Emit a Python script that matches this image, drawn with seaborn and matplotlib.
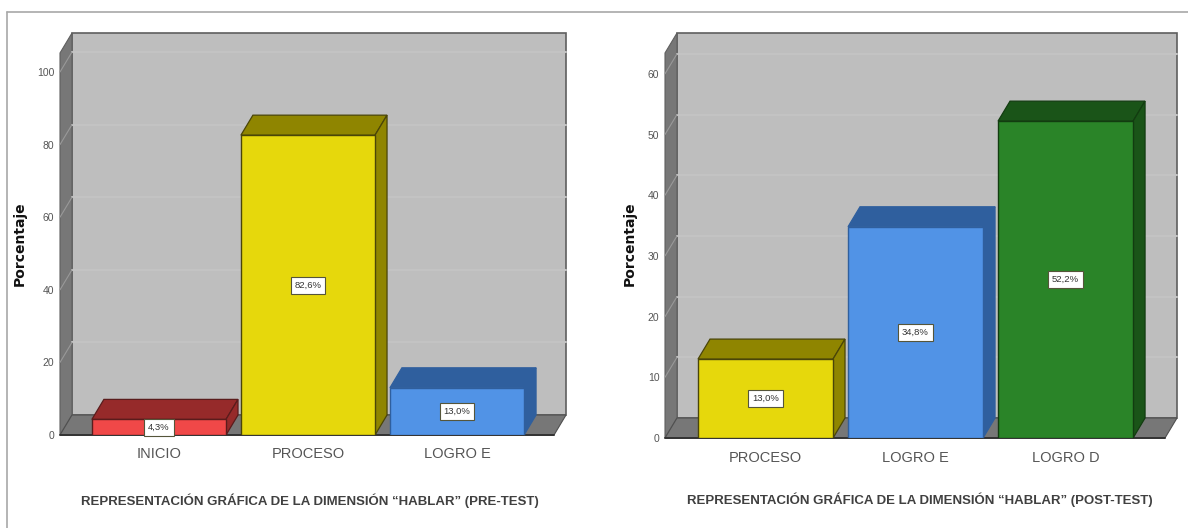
import matplotlib
matplotlib.use("Agg")
import matplotlib.pyplot as plt
from matplotlib.lines import Line2D
from matplotlib.patches import Polygon, Rectangle
import pandas as pd
import seaborn as sns

FIG_W, FIG_H = 1188, 528

PRE_CATEGORIES = ["INICIO", "PROCESO", "LOGRO E"]
PRE_VALUES = [4.3, 82.6, 13.0]
PRE_LABELS = ["4,3%", "82,6%", "13,0%"]
PRE_TICKS = [0, 20, 40, 60, 80, 100]
PRE_TITLE = "REPRESENTACIÓN GRÁFICA DE LA DIMENSIÓN “HABLAR” (PRE-TEST)"

POST_CATEGORIES = ["PROCESO", "LOGRO E", "LOGRO D"]
POST_VALUES = [13.0, 34.8, 52.2]
POST_LABELS = ["13,0%", "34,8%", "52,2%"]
POST_TICKS = [0, 10, 20, 30, 40, 50, 60]
POST_TITLE = "REPRESENTACIÓN GRÁFICA DE LA DIMENSIÓN “HABLAR” (POST-TEST)"

# front face colour, side/top colour, edge colour
COLORS = {
    "INICIO": ("#f04848", "#962a2a", "#5a1c1c"),
    "PROCESO": ("#e6d80c", "#8f8500", "#4a4508"),
    "LOGRO E": ("#5193e6", "#2f5f9e", "#2f5f9e"),
    "LOGRO D": ("#2a8428", "#1a5418", "#123c10"),
}
WALL = "#bebebe"
SIDE = "#777777"
DEPTH_X, DEPTH_Y = 12, 20  # pixels


def depth_chart(rect, xlim, cats, vals, labels, ticks, ymax):
    """rect is the front plane in pixels: left, top, right, bottom"""
    left, top, right, bottom = rect
    ax = fig.add_axes([
        left / FIG_W,
        1 - bottom / FIG_H,
        (right - left) / FIG_W,
        (bottom - top) / FIG_H,
    ])
    df = pd.DataFrame({"cat": cats, "val": vals})
    palette = {c: COLORS[c][0] for c in cats}
    sns.barplot(
        data=df, x="cat", y="val", hue="cat", palette=palette, saturation=1,
        width=0.9, legend=False, linewidth=1.0, zorder=5, ax=ax,
    )
    ax.set_xlim(*xlim)
    ax.set_ylim(0, ymax)

    x0, x1 = xlim
    dx = DEPTH_X * (x1 - x0) / (right - left)
    dy = DEPTH_Y * ymax / (bottom - top)

    # walls and floor
    ax.add_patch(Rectangle((x0 + dx, dy), x1 - x0, ymax, fc=WALL, ec="#5f5f5f", lw=1.2, clip_on=False, zorder=1))
    ax.add_patch(Polygon([(x0, 0), (x0 + dx, dy), (x0 + dx, ymax + dy), (x0, ymax)],
                         fc=SIDE, ec="#5f5f5f", lw=0.8, clip_on=False, zorder=1))
    ax.add_patch(Polygon([(x0, 0), (x1, 0), (x1 + dx, dy), (x0 + dx, dy)],
                         fc=SIDE, ec="#4f4f4f", lw=0.8, clip_on=False, zorder=1))
    ax.plot([x0, x1], [0, 0], color="#333333", lw=1.4, clip_on=False, zorder=2)

    for t in ticks:
        if t == 0:
            continue
        ax.plot([x0 + dx, x1 + dx], [t + dy, t + dy], color="#c3c3c3", lw=1.5, clip_on=False, zorder=2)
        ax.plot([x0, x0 + dx], [t, t + dy], color="#999999", lw=0.8, clip_on=False, zorder=2)

    # bar top and side faces, then the value box
    for bar, cat, val, label in zip(ax.patches, cats, vals, labels):
        xa, xb = bar.get_x(), bar.get_x() + bar.get_width()
        shade, edge = COLORS[cat][1], COLORS[cat][2]
        bar.set_edgecolor(edge)
        ax.add_patch(Polygon([(xa, val), (xb, val), (xb + dx, val + dy), (xa + dx, val + dy)],
                             fc=shade, ec=edge, lw=0.9, clip_on=False, zorder=4))
        ax.add_patch(Polygon([(xb, 0), (xb + dx, dy), (xb + dx, val + dy), (xb, val)],
                             fc=shade, ec=edge, lw=0.9, clip_on=False, zorder=4))
        ax.text(
            (xa + xb) / 2, val / 2, label, ha="center", va="center", fontsize=6.8,
            color="#333333", zorder=7,
            bbox=dict(boxstyle="square,pad=0.42", fc="white", ec="#55553a", lw=0.8),
        )

    ax.set_xticks(range(len(cats)))
    ax.set_xticklabels(cats, fontsize=10.5, color="#555555")
    ax.set_yticks(ticks)
    ax.set_yticklabels([str(t) for t in ticks], fontsize=7.5, color="#555555")
    ax.tick_params(axis="both", length=0)
    ax.tick_params(axis="x", pad=9)
    ax.tick_params(axis="y", pad=4)
    ax.set_xlabel("")
    ax.set_ylabel("")
    ax.patch.set_visible(False)
    for s in ax.spines.values():
        s.set_visible(False)
    return ax


sns.set_theme(style="white")
plt.rcParams["font.family"] = ["Liberation Sans", "DejaVu Sans"]
fig = plt.figure(figsize=(FIG_W / 100, FIG_H / 100), dpi=100, facecolor="white")

depth_chart((60, 53, 554, 435), (-0.664, 2.651), PRE_CATEGORIES, PRE_VALUES, PRE_LABELS, PRE_TICKS, (435 - 53) / 3.63)
depth_chart((665, 53, 1165, 438), (-0.67, 2.663), POST_CATEGORIES, POST_VALUES, POST_LABELS, POST_TICKS, (438 - 53) / 6.07)

for x in (20, 630):
    fig.text(x / FIG_W, 1 - 244 / FIG_H, "Porcentaje", rotation=90, ha="center", va="center",
             fontsize=10, fontweight="bold", color="#111111", family="DejaVu Sans")
fig.text(310 / FIG_W, 1 - 501 / FIG_H, PRE_TITLE, ha="center", va="center",
         fontsize=9.5, fontweight="bold", color="#404040")
fig.text(920 / FIG_W, 1 - 500 / FIG_H, POST_TITLE, ha="center", va="center",
         fontsize=9.5, fontweight="bold", color="#404040")

# outer frame of the screenshot
fig.add_artist(Line2D([7 / FIG_W, 7 / FIG_W], [0, 1 - 12 / FIG_H], color="#a8a8a8", lw=1.2))
fig.add_artist(Line2D([7 / FIG_W, 1], [1 - 12 / FIG_H, 1 - 12 / FIG_H], color="#a8a8a8", lw=1.2))

fig.savefig("out.png", dpi=100)
plt.close(fig)
